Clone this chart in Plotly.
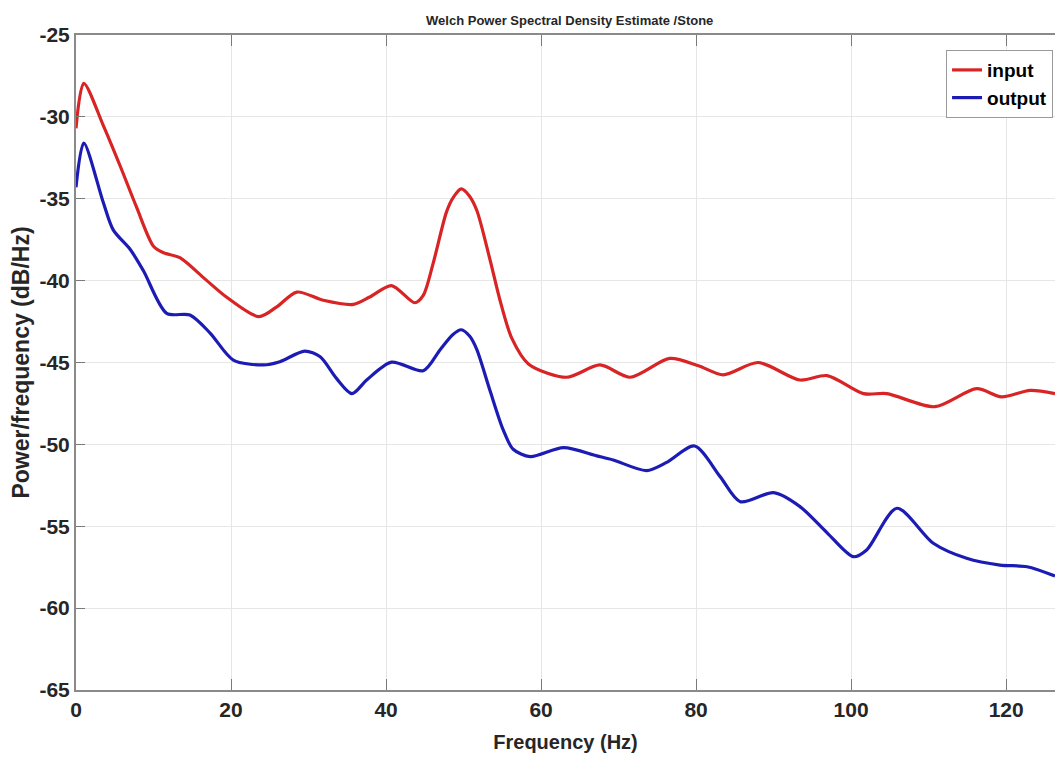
import plotly.graph_objects as go

# Data
freq_in = [0, 1.0, 3.5, 5.7, 7.8, 10.0, 11.3, 13.4, 16.4, 19.4, 23.6, 25.9, 28.5, 31.9,
           35.8, 37.9, 40.7, 43.7, 44.8, 46.1, 47.8, 48.7, 49.7, 50.7, 51.7, 53.4, 54.7,
           56.2, 58.4, 63.3, 67.6, 71.5, 76.6, 80.3, 83.5, 88.0, 93.4, 96.9, 101.6,
           104.6, 110.8, 116.2, 119.4, 123.1, 126.3]
psd_in = [-30.7, -27.95, -30.5, -33.0, -35.5, -37.9, -38.3, -38.6, -39.8, -41.0, -42.2,
          -41.6, -40.7, -41.2, -41.45, -41.0, -40.3, -41.35, -40.9, -38.9, -35.8, -34.9,
          -34.4, -34.8, -35.7, -38.7, -41.2, -43.5, -45.1, -45.9, -45.15, -45.9, -44.75,
          -45.2, -45.75, -45.0, -46.07, -45.8, -46.9, -46.9, -47.7, -46.6, -47.1, -46.7,
          -46.9]

freq_out = [0, 1.0, 3.5, 4.8, 7.0, 8.7, 11.7, 14.7, 17.3, 20.3, 24.2, 26.3, 29.5, 31.5,
            33.6, 35.6, 37.5, 40.7, 44.8, 47.0, 48.6, 49.7, 50.8, 51.7, 53.4, 55.1, 56.4,
            58.6, 62.9, 67.2, 69.3, 73.6, 76.2, 79.8, 83.1, 85.7, 90.0, 93.4, 96.9,
            100.3, 102.0, 105.9, 110.6, 114.9, 119.2, 122.7, 126.3]
psd_out = [-34.3, -31.6, -35.2, -36.9, -38.1, -39.4, -42.0, -42.1, -43.2, -44.85, -45.15,
           -44.95, -44.3, -44.65, -45.97, -46.9, -46.07, -44.98, -45.5, -44.2, -43.3,
           -43.0, -43.4, -44.2, -46.7, -49.1, -50.3, -50.75, -50.2, -50.7, -50.95, -51.6,
           -51.1, -50.1, -51.97, -53.5, -52.95, -53.8, -55.4, -56.86, -56.45, -53.9,
           -56.04, -56.96, -57.37, -57.47, -58.04]

x_ticks = [0, 20, 40, 60, 80, 100, 120]
x_labels = ["0", "20", "40", "60", "80", "100", "120"]
y_ticks = [-65, -60, -55, -50, -45, -40, -35, -30, -25]
y_labels = ["-65", "-60", "-55", "-50", "-45", "-40", "-35", "-30", "-25"]

FONT = "Liberation Sans, Arial, sans-serif"
TXT = "#262626"

fig = go.Figure()
fig.add_trace(go.Scatter(x=freq_in, y=psd_in, name="input", mode="lines",
                         line=dict(color="#d82424", width=3.2, shape="spline", smoothing=0.8)))
fig.add_trace(go.Scatter(x=freq_out, y=psd_out, name="output", mode="lines",
                         line=dict(color="#1c1cb4", width=3.2, shape="spline", smoothing=0.8)))

fig.update_layout(
    width=1055, height=761,
    margin=dict(l=76, r=0, t=35, b=71),
    paper_bgcolor="white", plot_bgcolor="white",
    title=dict(text="Welch Power Spectral Density Estimate /Stone",
               font=dict(family=FONT, size=13, color=TXT, weight="bold"),
               x=0.54, xanchor="center", y=0.973, yanchor="middle"),
    legend=dict(x=0.998, xanchor="right", y=0.977, yanchor="top",
                bgcolor="white", bordercolor="#9a9a9a", borderwidth=1,
                font=dict(family=FONT, size=19, color="black", weight="bold"),
                itemwidth=30, tracegroupgap=0),
    xaxis=dict(range=[0, 126.3], tickvals=x_ticks, ticktext=x_labels, ticks="inside",
               ticklen=11, tickcolor="#7a7a7a", showline=True, linecolor="#8a8a8a",
               linewidth=2, mirror="ticks", showgrid=True, gridcolor="#e6e6e6",
               gridwidth=1, zeroline=False,
               tickfont=dict(family=FONT, size=21, color=TXT, weight="bold"),
               title=dict(text="Frequency (Hz)", standoff=15,
                          font=dict(family=FONT, size=20, color=TXT, weight="bold"))),
    yaxis=dict(range=[-65, -25], tickvals=y_ticks, ticktext=y_labels, ticks="inside",
               ticklen=9, tickcolor="#7a7a7a", showline=True, linecolor="#8a8a8a",
               linewidth=2, mirror=False, showgrid=True, gridcolor="#e6e6e6",
               gridwidth=1, zeroline=False,
               tickfont=dict(family=FONT, size=21, color=TXT, weight="bold"),
               title=dict(text="Power/frequency (dB/Hz)", standoff=3,
                          font=dict(family=FONT, size=23, color=TXT, weight="bold"))),
)

fig.write_html("out.html")
